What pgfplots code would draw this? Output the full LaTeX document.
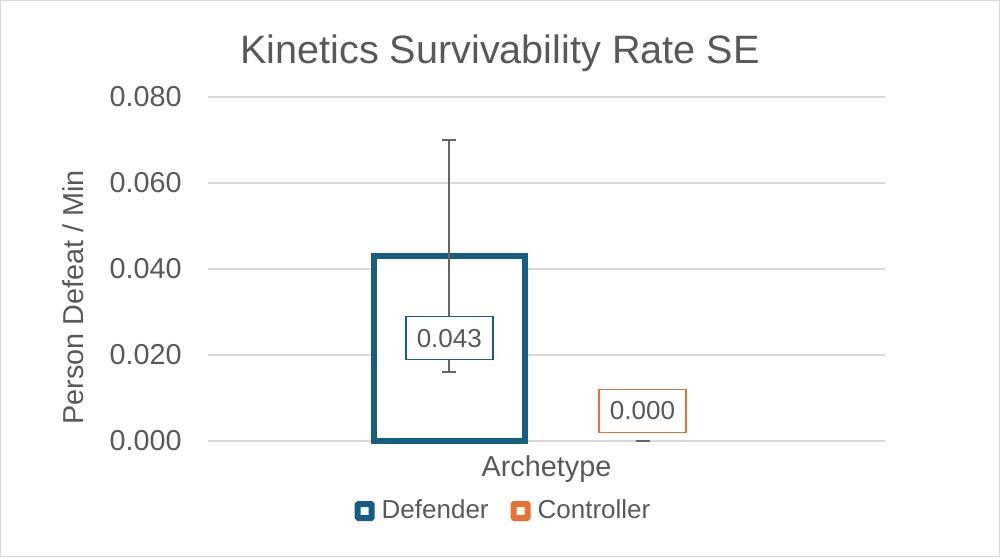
\documentclass[border=0pt]{standalone}
\usepackage{pgfplots}
\pgfplotsset{compat=1.18}
\usepackage{fontspec}
\setmainfont{Liberation Sans}
\definecolor{defc}{HTML}{156082}
\definecolor{conc}{HTML}{E97132}
\definecolor{txt}{HTML}{595959}
\definecolor{gridc}{HTML}{D9D9D9}
\definecolor{errc}{HTML}{666666}
\begin{document}
\begin{tikzpicture}[x=1pt,y=1pt]
\path[use as bounding box] (0,0) rectangle (500,278.5);
\draw[gridc, line width=0.6pt] (0.3,0.3) rectangle (499.7,278.2);
\begin{axis}[
  at={(104pt,58pt)}, anchor=south west,
  scale only axis, width=338.5pt, height=172pt,
  xmin=-0.5, xmax=0.5, ymin=0, ymax=0.08,
  ytick={0,0.02,0.04,0.06,0.08},
  scaled y ticks=false,
  xtick={0}, xticklabels={Archetype},
  axis line style={draw=none},
  major tick length=0pt,
  ymajorgrids, grid style={gridc, line width=0.75pt},
  /pgf/number format/assume math mode=true,
  yticklabel={\pgfmathprintnumber[fixed,fixed zerofill,precision=3]{\tick}},
  yticklabel style={anchor=east, inner sep=0pt, xshift=-13pt, text=txt, font=\fontsize{14.4}{16}\selectfont},
  xticklabel style={anchor=base, inner sep=0pt, yshift=-17.5pt, text=txt, font=\fontsize{14.4}{16}\selectfont},
  legend columns=2,
  legend style={at={(rel axis cs:0.438,-0.2035)}, anchor=center, draw=none, fill=none,
    font=\fontsize{13}{15}\selectfont, text=txt,
    /tikz/every odd column/.append style={column sep=1.5pt},
    /tikz/every even column/.append style={column sep=9pt}},
  clip=false,
]
\addplot[ybar, bar width=0.223, bar shift=0pt, draw=defc, fill=white, line width=2.75pt,
  legend image code/.code={\draw[defc, line width=3pt, fill=white, rounded corners=0.4pt] (-3pt,-3.5pt) rectangle (4pt,3.5pt);},
  error bars/.cd, y dir=both, y explicit,
  error bar style={errc, line width=0.85pt},
  error mark options={rotate=90, mark size=3.5pt, errc, line width=0.85pt}]
  coordinates {(-0.1436,0.043) +- (0,0.027)};
\addlegendentry{Defender}
\addplot[ybar, bar width=0.223, bar shift=0pt, draw=none, fill=none,
  legend image code/.code={\draw[conc, line width=3pt, fill=white, rounded corners=0.4pt] (-3pt,-3.5pt) rectangle (4pt,3.5pt);},
  error bars/.cd, y dir=both, y explicit,
  error bar style={errc, line width=0.85pt},
  error mark options={rotate=90, mark size=3.5pt, errc, line width=0.85pt}]
  coordinates {(0.1418,0.0) +- (0,0.0)};
\addlegendentry{Controller}
\addplot[draw=none, forget plot,
  nodes near coords={\pgfmathprintnumber[fixed,fixed zerofill,precision=3]{\pgfplotspointmeta}},
  point meta=y,
  every node near coord/.append style={anchor=center, yshift=-41pt, draw=defc, fill=white, text=txt,
    line width=0.75pt, minimum width=43.5pt, minimum height=21.5pt, inner sep=0pt,
    font=\fontsize{13}{15}\selectfont, /pgf/number format/assume math mode=true}]
  coordinates {(-0.1436,0.043)};
\addplot[draw=none, forget plot,
  nodes near coords={\pgfmathprintnumber[fixed,fixed zerofill,precision=3]{\pgfplotspointmeta}},
  point meta=y,
  every node near coord/.append style={anchor=center, yshift=15pt, draw=conc, fill=white, text=txt,
    line width=0.75pt, minimum width=43.5pt, minimum height=21.5pt, inner sep=0pt,
    font=\fontsize{13}{15}\selectfont, /pgf/number format/assume math mode=true}]
  coordinates {(0.1418,0.0)};
\end{axis}
\node[anchor=base, text=txt, font=\fontsize{19.8}{22}\selectfont] at (250,246.5) {Kinetics Survivability Rate SE};
\node[anchor=base, rotate=90, text=txt, font=\fontsize{14.4}{16}\selectfont] at (41.6,129.75) {Person Defeat / Min};
\end{tikzpicture}
\end{document}
